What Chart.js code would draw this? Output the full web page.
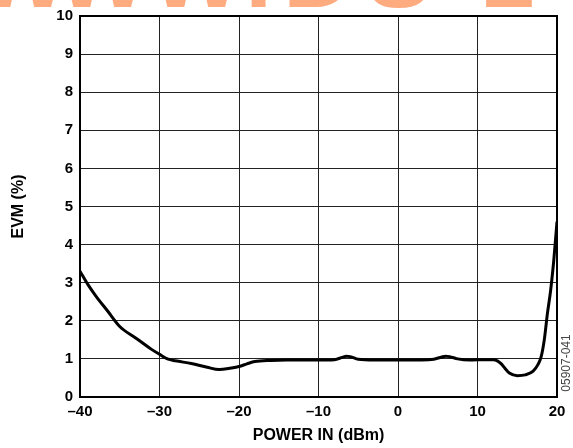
<!DOCTYPE html>
<html lang="en">
<head>
  <meta charset="UTF-8">
  <title>EVM vs Power In</title>
  <script src="https://cdn.jsdelivr.net/npm/chart.js"></script>
  <style>
    body { margin: 0; padding: 0; background: #fff; }
    .wrap { position: relative; width: 573px; height: 448px; }
  </style>
</head>
<body>
  <div class="wrap">
    <canvas id="evmChart" width="573" height="448"></canvas>
  </div>
  <script>
    // values
    const powerIn = [-40, -39, -38, -36.5, -35, -33, -31, -30, -29, -28, -26, -24, -22.5, -21, -20, -19, -18, -16, -14, -12, -10, -8, -7, -6.5, -6, -5, -3, 0, 3, 4.5, 5.5, 6, 6.5, 7.5, 9, 11, 12, 12.5, 13, 13.5, 14, 15, 16, 17, 17.6, 18, 18.4, 18.8, 19.2, 19.6, 20];
    const evm     = [3.3, 2.95, 2.65, 2.25, 1.85, 1.55, 1.25, 1.12, 1.0, 0.95, 0.88, 0.78, 0.72, 0.76, 0.8, 0.87, 0.93, 0.96, 0.97, 0.97, 0.97, 0.98, 1.04, 1.07, 1.06, 0.99, 0.97, 0.97, 0.97, 0.99, 1.05, 1.07, 1.06, 1.0, 0.97, 0.98, 0.98, 0.95, 0.87, 0.74, 0.63, 0.56, 0.58, 0.68, 0.85, 1.05, 1.5, 2.2, 2.8, 3.6, 4.6];
    const xTicks  = [-40, -30, -20, -10, 0, 10, 20];
    const yTicks  = [0, 1, 2, 3, 4, 5, 6, 7, 8, 9, 10];

    const points = powerIn.map((p, i) => ({ x: p, y: evm[i] }));
    const tickFont = { family: 'Liberation Sans, Arial, sans-serif', size: 15, weight: 'bold' };
    const titleFont = { family: 'Liberation Sans, Arial, sans-serif', size: 16, weight: 'bold' };

    // watermark and figure number
    const extras = {
      id: 'extras',
      beforeDraw(chart) {
        const c = chart.ctx;
        c.save();
        c.fillStyle = '#ffab80';
        c.font = 'bold 98px Liberation Sans, Arial, sans-serif';
        c.textBaseline = 'alphabetic';
        const marks = [['W', -24], ['W', 56], ['W', 150], ['.', 245], ['D', 283], ['S', 366], ['1', 480]];
        marks.forEach(([t, x]) => c.fillText(t, x, 7));
        c.restore();
      },
      afterDraw(chart) {
        const c = chart.ctx;
        c.save();
        c.translate(567, 363);
        c.rotate(-Math.PI / 2);
        c.fillStyle = '#444';
        c.font = '12px Liberation Sans, Arial, sans-serif';
        c.textAlign = 'center';
        c.textBaseline = 'middle';
        c.fillText('05907-041', 0, 0);
        c.restore();
      }
    };

    new Chart(document.getElementById('evmChart').getContext('2d'), {
      type: 'line',
      data: {
        datasets: [{
          data: points,
          borderColor: '#000',
          borderWidth: 3,
          pointRadius: 0,
          fill: false,
          cubicInterpolationMode: 'monotone'
        }]
      },
      options: {
        responsive: false,
        animation: false,
        layout: { padding: { top: 14, right: 16, left: 0, bottom: 0 } },
        plugins: { legend: { display: false }, tooltip: { enabled: false } },
        scales: {
          x: {
            type: 'linear',
            min: -40, max: 20,
            afterBuildTicks: s => { s.ticks = xTicks.map(v => ({ value: v })); },
            afterFit: s => { s.height = 51; },
            ticks: {
              color: '#000', font: tickFont, padding: 6, maxRotation: 0,
              callback: v => String(v).replace('-', '\u2013')
            },
            grid: { color: '#222', lineWidth: 1, drawTicks: false },
            border: { color: '#000', width: 2 },
            title: { display: true, text: 'POWER IN (dBm)', color: '#000', font: titleFont, padding: { top: 0, bottom: 3 } }
          },
          y: {
            min: 0, max: 10,
            afterBuildTicks: s => { s.ticks = yTicks.map(v => ({ value: v })); },
            afterFit: s => { s.width = 80; },
            ticks: { color: '#000', font: tickFont, padding: 7 },
            grid: { color: '#222', lineWidth: 1, drawTicks: false },
            border: { color: '#000', width: 2 },
            title: { display: true, text: 'EVM (%)', color: '#000', font: titleFont, padding: { top: 9, bottom: 0 } }
          },
          x2: {
            type: 'linear', position: 'top', min: -40, max: 20,
            ticks: { display: false }, grid: { display: false, drawTicks: false },
            border: { color: '#000', width: 2 },
            afterFit: s => { s.height = 0; }
          },
          y2: {
            position: 'right', min: 0, max: 10,
            ticks: { display: false }, grid: { display: false, drawTicks: false },
            border: { color: '#000', width: 2 },
            afterFit: s => { s.width = 0; }
          }
        }
      },
      plugins: [extras]
    });
  </script>
</body>
</html>
